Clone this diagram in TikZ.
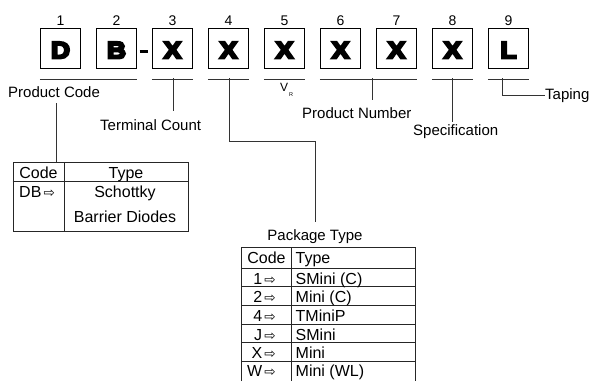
\documentclass[tikz,border=0pt]{standalone}
\usepackage{fontspec}
\setmainfont{Liberation Sans}
\newfontfamily\heavyfont{Liberation Sans Bold}[FakeBold=10,FakeStretch=1.12]
\newfontfamily\arrowfont{DejaVu Sans}
\newcommand{\rarr}{{\arrowfont\fontsize{13.5}{13.5}\selectfont\,⇨}}
\begin{document}
\begin{tikzpicture}[x=1pt,y=-1pt,
  box/.style={draw=black, line width=1.3pt, minimum width=40pt, minimum height=40pt, inner sep=0pt},
  big/.style={font=\heavyfont\fontsize{23.5}{23.5}\selectfont, inner sep=0pt, anchor=base},
  num/.style={font=\fontsize{14}{14}\selectfont, inner sep=0pt, anchor=base},
  lbl/.style={font=\fontsize{15}{15}\selectfont, inner sep=0pt, anchor=base west},
  cell/.style={font=\fontsize{16}{16}\selectfont, inner sep=0pt},
  ln/.style={draw=black!80, line width=0.9pt},
  tab/.style={draw=black!85, line width=0.9pt}]
\useasboundingbox (0,0) rectangle (592,381);

% boxes, letters, digits
\foreach \i/\t in {1/D,2/B,3/X,4/X,5/X,6/X,7/X,8/X,9/L} {
  \node[box] (b\i) at ({60.5+56*(\i-1)},48.3) {};
  \node[big] (t\i) at ({60.5+56*(\i-1)},58.3) {\t};
  \node[num] (n\i) at ({60.5+56*(\i-1)},25) {\i};
}
\draw[line width=2.8pt] ([xshift=2.5pt,yshift=-3pt]b2.east) -- ([xshift=-3.5pt,yshift=-3pt]b3.west);

% bracket coordinates
\path (b1.south west) ++(0,10) coordinate (pcL);
\path (b2.south east) ++(0,10) coordinate (pcR);
\path (b3.south west) ++(0,10) coordinate (tcL);
\path (b3.south east) ++(0,10) coordinate (tcR);
\path (b4.south west) ++(0,10) coordinate (pkL);
\path (b4.south east) ++(0,10) coordinate (pkR);
\path (b5.south west) ++(0,10) coordinate (vrL);
\path (b5.south east) ++(0,10) coordinate (vrR);
\path (b6.south west) ++(0,10) coordinate (pnL);
\path (b7.south east) ++(0,10) coordinate (pnR);
\path (b8.south west) ++(0,10) coordinate (spL);
\path (b8.south east) ++(0,10) coordinate (spR);
\path (b9.south west) ++(0,10) coordinate (tpL);
\path (b9.south east) ++(0,10) coordinate (tpR);

\draw[ln] (pcL) -- (pcR);
\draw[ln] (tcL) -- (tcR);
\draw[ln] (pkL) -- (pkR);
\draw[ln] (vrL) -- (vrR);
\draw[ln] (pnL) -- (pnR);
\draw[ln] (spL) -- (spR);
\draw[ln] (tpL) -- (tpR);

% labels
\node[lbl] (pc) at (8,97) {Product Code};
\node[lbl,font=\fontsize{12}{12}\selectfont] (vr) at (280,91.7) {V\kern0.8pt\raisebox{-5pt}{\fontsize{5.5}{5.5}\selectfont R}};
\node[lbl] (tc) at (100,130) {Terminal Count};
\node[lbl] (pn) at (302,118.5) {Product Number};
\node[lbl] (sp) at (413,135) {Specification};
\node[lbl] (tp) at (545,99) {Taping};
\node[lbl,anchor=base] (pt) at (315,240.5) {Package Type};

% connectors
\coordinate (tcM) at (173,78.3);  \coordinate (tcE) at (173,111);
\coordinate (pnM) at (372.7,78.3); \coordinate (pnE) at (372.7,100);
\coordinate (spM) at (452.7,78.3); \coordinate (spE) at (452.7,122);
\coordinate (tpM) at (502.7,78.3);
\coordinate (pkM) at (229,78.3); \coordinate (pkK) at (315,141); \coordinate (pkE) at (315,222);
\coordinate (pcT) at (56,103);
\draw[ln] (tcM) -- (tcE);
\draw[ln] (pnM) -- (pnE);
\draw[ln] (spM) -- (spE);
\draw[ln] (tpM) |- ([xshift=-0.3pt]tp.west);
\draw[ln] (pkM) |- (pkK) -- (pkE);

% code table (product code)
\node[tab, draw, minimum width=175.3pt, minimum height=69pt, inner sep=0pt, anchor=north west] (ct) at (12.7,162) {};
\draw[ln] (pcT) -- (pcT |- ct.north);
\draw[tab] (12.7,181) -- (188,181);
\draw[tab] (64.3,162) -- (64.3,231);
\node[cell,anchor=base] (ch1) at (38.5,178) {Code};
\node[cell,anchor=base] (ch2) at (126,178) {Type};
\node[cell,anchor=base west] (cc1) at (19,197) {DB\rarr};
\node[cell,anchor=base] (cv1) at (125,197) {Schottky};
\node[cell,anchor=base] (cv2) at (125,222) {Barrier Diodes};

% package table
\draw[tab] (241,381) -- (241,247) -- (415.5,247) -- (415.5,381);
\draw[tab] (291.7,247) -- (291.7,381);
\foreach \yy in {268.3,286.9,305.4,324,342.7,361.6} {
  \draw[tab] (241,\yy) -- (415.5,\yy);
}
\node[cell,anchor=base] (ph1) at (266.5,263) {Code};
\node[cell,anchor=base west] (ph2) at (295.5,263) {Type};
\foreach \k/\c/\v [count=\j] in {284.3/1/SMini (C),302.9/2/Mini (C),321.5/4/TMiniP,340.1/J/SMini,358.8/X/Mini,376.6/W/Mini (WL)} {
  \node[cell,anchor=base east] (pc\j) at (276,\k) {\c\rarr};
  \node[cell,anchor=base west] (pv\j) at (295.5,\k) {\v};
}
\end{tikzpicture}
\end{document}
